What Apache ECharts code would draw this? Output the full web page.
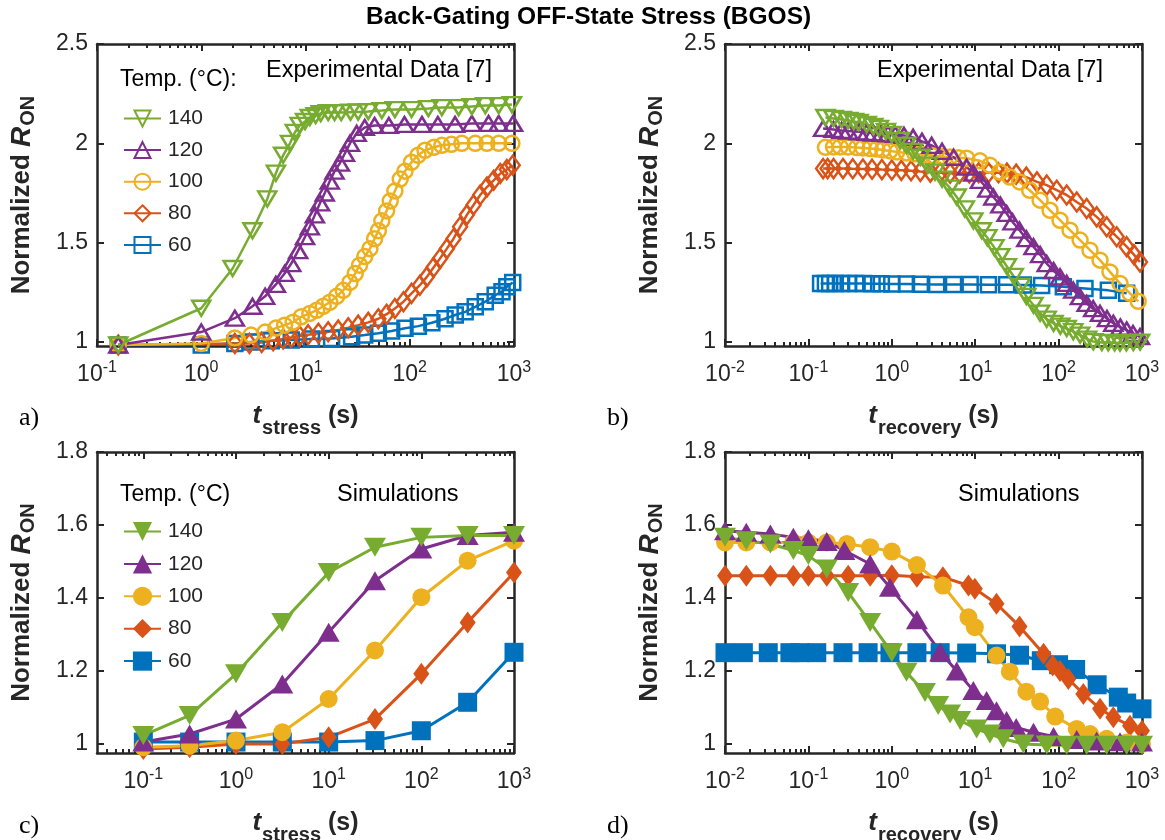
<!DOCTYPE html>
<html><head><meta charset="utf-8">
<script src="https://cdn.jsdelivr.net/npm/echarts@6/dist/echarts.min.js"></script>
<style>html,body{margin:0;padding:0;background:#fff}#c{width:1165px;height:840px}</style>
</head><body><div id="c"></div>
<script>
// ---------------- DATA ----------------
const temps = ['140', '120', '100', '80', '60'];
const stressExps = [-1, 0, 1, 2, 3];
const recoveryExps = [-2, -1, 0, 1, 2, 3];
const expYTicks = [1, 1.5, 2, 2.5];
const simYTicks = [1, 1.2, 1.4, 1.6, 1.8];

// a) experimental stress: [t (s), normalized R_ON]
const expStress140 = [[0.16,0.985],[1,1.17],[2,1.37],[3.1,1.56],[4.3,1.72],[5.2,1.85],[6.1,1.94],[7.1,2.0],[7.9,2.055],[8.8,2.09],[9.9,2.11],[11,2.13],[12.5,2.14],[14,2.15],[16.5,2.155],[19,2.155],[22,2.155],[27,2.157],[32,2.158],[40,2.16],[54,2.165],[72,2.17],[104,2.17],[151,2.175],[203,2.18],[294,2.18],[394,2.185],[530,2.19],[713,2.19],[955,2.195]];
const expStress120 = [[0.16,0.985],[1,1.05],[2.1,1.12],[3.1,1.18],[4.1,1.23],[5.2,1.29],[6.3,1.345],[7.3,1.395],[8.5,1.46],[9.9,1.53],[11,1.58],[12.3,1.64],[13.8,1.70],[15.3,1.75],[17.1,1.81],[19,1.86],[21.4,1.90],[23.9,1.95],[26.7,2.0],[31,2.05],[37,2.08],[46,2.09],[63,2.09],[89,2.095],[131,2.095],[186,2.095],[272,2.095],[394,2.1],[570,2.1],[713,2.1],[980,2.1]];
const expStress100 = [[0.16,0.985],[1,0.993],[2.1,1.02],[3,1.035],[4.1,1.05],[5.2,1.07],[6.3,1.085],[7.6,1.10],[9.1,1.127],[11,1.144],[12.8,1.16],[14.8,1.18],[17.1,1.20],[19.9,1.23],[23,1.26],[26.7,1.30],[30,1.345],[33,1.387],[37,1.43],[41.5,1.47],[46,1.52],[50,1.56],[54,1.61],[60,1.66],[65,1.71],[72,1.76],[81,1.82],[90,1.86],[104,1.905],[120,1.94],[140,1.965],[170,1.98],[203,1.99],[251,1.995],[316,2.0],[425,2.0],[550,2.0],[713,2.0],[955,2.0]];
const expStress80 = [[0.16,0.985],[2.1,0.993],[2.9,0.993],[3.8,0.998],[4.9,1.007],[6.1,1.015],[7.3,1.023],[8.8,1.03],[10.6,1.037],[13.3,1.044],[16.5,1.052],[20.6,1.06],[25.7,1.072],[32,1.085],[40,1.099],[50,1.117],[60,1.14],[72,1.169],[87,1.203],[104,1.245],[125,1.286],[146,1.328],[169,1.375],[195,1.42],[227,1.47],[263,1.52],[304,1.58],[353,1.64],[409,1.69],[474,1.74],[550,1.78],[638,1.814],[738,1.848],[853,1.868],[972,1.89]];
const expStress60 = [[0.16,0.985],[1,0.985],[2.1,0.993],[3,1.0],[4.7,1.007],[7.3,1.01],[11.4,1.015],[17.8,1.018],[27.7,1.027],[37,1.035],[50,1.044],[67,1.055],[90,1.069],[121,1.08],[163,1.097],[218,1.117],[273,1.136],[340,1.152],[425,1.177],[530,1.203],[660,1.236],[767,1.253],[853,1.278],[972,1.30]];

// b) experimental recovery
const expRec140 = [[0.16,2.13],[0.2,2.125],[0.25,2.12],[0.3,2.115],[0.35,2.11],[0.4,2.105],[0.5,2.095],[0.6,2.085],[0.7,2.075],[0.85,2.06],[1.0,2.045],[1.25,2.015],[1.5,1.99],[1.8,1.96],[2.2,1.93],[2.7,1.89],[3.3,1.855],[4,1.82],[5,1.775],[6,1.73],[7.5,1.67],[9.5,1.61],[12,1.56],[14,1.525],[17,1.475],[20,1.43],[24,1.38],[29,1.33],[35,1.28],[41,1.23],[50,1.185],[60,1.145],[72,1.115],[87,1.094],[105,1.08],[125,1.068],[150,1.052],[181,1.035],[220,1.015],[261,1.002],[330,0.998],[394,0.997],[470,0.996],[545,0.995],[650,0.996],[787,0.998],[950,1.0]];
const expRec120 = [[0.15,2.075],[0.2,2.07],[0.25,2.065],[0.3,2.062],[0.4,2.058],[0.5,2.055],[0.6,2.052],[0.75,2.05],[0.9,2.048],[1.1,2.045],[1.4,2.04],[1.8,2.03],[2.3,2.01],[3,1.99],[4,1.96],[5.5,1.93],[7.9,1.88],[9.5,1.85],[11.4,1.814],[14,1.77],[16.5,1.73],[20,1.69],[23.8,1.647],[28,1.605],[34,1.563],[41,1.52],[50,1.48],[60,1.44],[72,1.395],[87,1.36],[104,1.328],[125,1.295],[150,1.261],[180,1.228],[217,1.194],[260,1.168],[314,1.144],[380,1.118],[453,1.094],[550,1.075],[655,1.06],[780,1.043],[946,1.027]];
const expRec100 = [[0.16,1.98],[0.2,1.982],[0.24,1.982],[0.3,1.981],[0.38,1.979],[0.45,1.977],[0.55,1.974],[0.66,1.971],[0.78,1.967],[0.95,1.962],[1.15,1.957],[1.5,1.952],[1.9,1.947],[2.4,1.942],[3.1,1.938],[4,1.934],[5,1.931],[6.3,1.928],[7.9,1.925],[11.4,1.912],[15,1.89],[19.8,1.856],[26,1.83],[34,1.806],[45,1.764],[60,1.714],[79,1.663],[104,1.613],[137,1.563],[181,1.513],[238,1.462],[314,1.412],[413,1.353],[545,1.295],[718,1.245],[900,1.205]];
const expRec80 = [[0.15,1.873],[0.17,1.873],[0.2,1.873],[0.26,1.873],[0.34,1.872],[0.45,1.871],[0.58,1.87],[0.76,1.868],[1.0,1.866],[1.3,1.864],[1.7,1.862],[2.2,1.858],[2.9,1.855],[3.8,1.852],[5,1.85],[6.5,1.85],[8.5,1.851],[11,1.852],[14.5,1.852],[19,1.852],[24,1.85],[31,1.845],[41,1.83],[55,1.806],[72,1.79],[95,1.764],[125,1.74],[165,1.705],[217,1.672],[286,1.63],[377,1.58],[497,1.53],[655,1.48],[800,1.44],[946,1.403]];
const expRec60 = [[0.14,1.295],[0.16,1.295],[0.18,1.295],[0.21,1.295],[0.25,1.295],[0.3,1.295],[0.37,1.294],[0.46,1.294],[0.58,1.293],[0.75,1.293],[1.0,1.292],[1.5,1.292],[2.2,1.291],[3.45,1.29],[5.5,1.29],[8.7,1.289],[14.4,1.288],[23.8,1.288],[37.8,1.287],[62.6,1.285],[114,1.278],[207,1.27],[395,1.26],[655,1.245]];

// c) simulated stress
const simStressTime = [0.1, 0.316, 1, 3.16, 10, 31.6, 100, 316, 1000];
const simStress140 = [1.023, 1.078, 1.192, 1.333, 1.47, 1.539, 1.566, 1.571, 1.571];
const simStress120 = [1.005, 1.027, 1.068, 1.164, 1.306, 1.447, 1.534, 1.571, 1.58];
const simStress100 = [0.991, 0.995, 1.009, 1.032, 1.123, 1.256, 1.402, 1.502, 1.557];
const simStress80 = [0.986, 0.991, 1.0, 1.0, 1.018, 1.068, 1.192, 1.333, 1.47];
const simStress60 = [1.005, 1.005, 1.005, 1.005, 1.005, 1.009, 1.036, 1.114, 1.251];

// d) simulated recovery
const simRec140 = [[0.01,1.566],[0.018,1.557],[0.035,1.548],[0.066,1.53],[0.1,1.516],[0.166,1.479],[0.3,1.415],[0.55,1.333],[1.0,1.25],[1.5,1.196],[2.5,1.141],[3.6,1.105],[5,1.082],[6.6,1.064],[10.4,1.041],[15,1.027],[21.7,1.014],[37.8,1.0],[72,0.997],[125,0.996],[217,0.996],[377,0.996],[655,0.996],[1000,0.996]];
const simRec120 = [[0.01,1.584],[0.018,1.58],[0.035,1.575],[0.066,1.566],[0.1,1.562],[0.166,1.555],[0.27,1.53],[0.55,1.493],[0.95,1.429],[2.0,1.34],[3.8,1.252],[6,1.2],[9.5,1.146],[13.7,1.119],[18,1.091],[23.8,1.064],[31,1.045],[50,1.032],[87,1.02],[165,1.012],[286,1.008],[545,1.006],[1000,1.005]];
const simRec100 = [[0.01,1.552],[0.018,1.552],[0.035,1.552],[0.066,1.552],[0.1,1.552],[0.166,1.552],[0.29,1.548],[0.55,1.539],[1.0,1.527],[2.0,1.49],[4.1,1.434],[8.3,1.347],[9.9,1.32],[18,1.242],[26,1.198],[41,1.143],[60,1.116],[91,1.075],[165,1.041],[238,1.027],[377,1.014],[655,1.004],[1000,1.0]];
const simRec80 = [[0.01,1.461],[0.018,1.461],[0.035,1.461],[0.066,1.461],[0.1,1.461],[0.166,1.461],[0.3,1.461],[0.55,1.461],[1.0,1.462],[2.0,1.458],[4.1,1.457],[8.3,1.434],[9.9,1.425],[18,1.384],[34,1.322],[66,1.247],[85,1.215],[104,1.2],[131,1.178],[198,1.137],[314,1.096],[453,1.073],[718,1.05],[1000,1.036]];
const simRec60 = [[0.01,1.25],[0.0166,1.25],[0.033,1.25],[0.06,1.25],[0.079,1.25],[0.126,1.25],[0.26,1.25],[0.52,1.25],[0.95,1.25],[2.0,1.25],[3.8,1.25],[7.9,1.249],[18,1.247],[34,1.243],[62,1.228],[100,1.217],[160,1.204],[290,1.162],[520,1.128],[655,1.112],[1000,1.096]];

// ---------------- STYLE ----------------
const AX = '#262626';
const FONT = "'Liberation Sans', Arial, Helvetica, sans-serif";
const SERIF = "'Liberation Serif', 'Times New Roman', serif";
const COLOR = {'140':'#77AC30','120':'#7E2F8E','100':'#EDB120','80':'#D95319','60':'#0072BD'};
const SYMBOL = {'140':'triangle','120':'triangle','100':'circle','80':'diamond','60':'rect'};
const ROT = {'140':180,'120':0,'100':0,'80':0,'60':0};
const SIZE_HOLLOW = {'140':[18,15],'120':[18,15],'100':15,'80':[14,19],'60':15};
const SIZE_FILLED = {'140':[22,19],'120':[22,19],'100':18,'80':[16,22],'60':19};

const simStressPairs = {
  '140': simStressTime.map((t, i) => [t, simStress140[i]]),
  '120': simStressTime.map((t, i) => [t, simStress120[i]]),
  '100': simStressTime.map((t, i) => [t, simStress100[i]]),
  '80': simStressTime.map((t, i) => [t, simStress80[i]]),
  '60': simStressTime.map((t, i) => [t, simStress60[i]])
};

const panels = [
  {key:'a', grid:{left:97, top:44, width:417, height:302}, xMin:-1, xMax:3, exps:stressExps, yMin:0.98, yMax:2.5, yTicks:expYTicks, sub:'stress', filled:false,
   data:{'140':expStress140,'120':expStress120,'100':expStress100,'80':expStress80,'60':expStress60}},
  {key:'b', grid:{left:725, top:44, width:417, height:302}, xMin:-2, xMax:3, exps:recoveryExps, yMin:0.98, yMax:2.5, yTicks:expYTicks, sub:'recovery', filled:false,
   data:{'140':expRec140,'120':expRec120,'100':expRec100,'80':expRec80,'60':expRec60}},
  {key:'c', grid:{left:97, top:452, width:417, height:301}, xMin:-1.5, xMax:3, exps:stressExps, yMin:0.975, yMax:1.8, yTicks:simYTicks, sub:'stress', filled:true,
   data:simStressPairs},
  {key:'d', grid:{left:725, top:452, width:417, height:301}, xMin:-2, xMax:3, exps:recoveryExps, yMin:0.975, yMax:1.8, yTicks:simYTicks, sub:'recovery', filled:true,
   data:{'140':simRec140,'120':simRec120,'100':simRec100,'80':simRec80,'60':simRec60}}
];

function minorTicks(min, max) {
  const out = [];
  for (let n = Math.floor(min); n < Math.ceil(max); n++) {
    for (let k = 2; k <= 9; k++) {
      const v = n + Math.log10(k);
      if (v > min && v < max) out.push(v);
    }
  }
  return out;
}

const grids = [], xAxes = [], yAxes = [], series = [];
const lineAx = {show:true, onZero:false, lineStyle:{color:AX, width:2.5}};
const tickStyle = {color:AX, width:2};

panels.forEach((p, g) => {
  grids.push(Object.assign({containLabel:false, outerBoundsMode:'none'}, p.grid));
  const minors = minorTicks(p.xMin, p.xMax);
  const base = {gridIndex:g, type:'value', min:p.xMin, max:p.xMax, splitLine:{show:false}};
  xAxes.push(Object.assign({}, base, {
    position:'bottom', axisLine:lineAx,
    axisTick:{show:true, inside:true, length:7, customValues:p.exps, lineStyle:tickStyle},
    axisLabel:{show:true, customValues:p.exps, margin:14,
      formatter: v => '{b|10}{e|' + Math.round(v) + '}',
      rich:{b:{fontSize:23, fontFamily:FONT, color:AX}, e:{fontSize:16, fontFamily:FONT, color:AX, padding:[0,0,13,0]}}},
    name:'{t|t}{s|' + p.sub + '}{p| (s)}', nameLocation:'middle', nameGap:48,
    nameTextStyle:{color:AX, rich:{
      t:{fontSize:26, fontWeight:'bold', fontStyle:'italic', fontFamily:FONT, color:AX},
      s:{fontSize:20, fontWeight:'bold', fontFamily:FONT, color:AX, padding:[24,0,0,1]},
      p:{fontSize:25, fontWeight:'bold', fontFamily:FONT, color:AX}}}
  }));
  xAxes.push(Object.assign({}, base, {position:'bottom', axisLine:{show:false, onZero:false},
    axisTick:{show:true, inside:true, length:4, customValues:minors, lineStyle:tickStyle}, axisLabel:{show:false}}));
  xAxes.push(Object.assign({}, base, {position:'top', axisLine:lineAx,
    axisTick:{show:true, inside:true, length:7, customValues:p.exps, lineStyle:tickStyle}, axisLabel:{show:false}}));
  xAxes.push(Object.assign({}, base, {position:'top', axisLine:{show:false, onZero:false},
    axisTick:{show:true, inside:true, length:4, customValues:minors, lineStyle:tickStyle}, axisLabel:{show:false}}));

  const yb = {gridIndex:g, type:'value', min:p.yMin, max:p.yMax, splitLine:{show:false}};
  yAxes.push(Object.assign({}, yb, {position:'left', axisLine:lineAx,
    axisTick:{show:true, inside:true, length:7, customValues:p.yTicks, lineStyle:tickStyle},
    axisLabel:{show:true, customValues:p.yTicks, margin:9, fontSize:23, fontFamily:FONT, color:AX},
    name:'{n|Normalized }{r|R}{o|ON}', nameLocation:'middle', nameRotate:90, nameGap:59,
    nameTextStyle:{color:AX, rich:{
      n:{fontSize:26, fontWeight:'bold', fontFamily:FONT, color:AX},
      r:{fontSize:28, fontWeight:'bold', fontStyle:'italic', fontFamily:FONT, color:AX},
      o:{fontSize:20, fontWeight:'bold', fontFamily:FONT, color:AX, padding:[12,0,0,1]}}}
  }));
  yAxes.push(Object.assign({}, yb, {position:'right', axisLine:lineAx,
    axisTick:{show:true, inside:true, length:7, customValues:p.yTicks, lineStyle:tickStyle}, axisLabel:{show:false}}));

  // plot order: 60 first, 140 last (on top)
  temps.slice().reverse().forEach(temp => {
    const c = COLOR[temp];
    series.push({
      type:'line', name:p.key + ' ' + temp, xAxisIndex:g * 4, yAxisIndex:g * 2,
      data:p.data[temp].map(d => [Math.log10(d[0]), d[1]]),
      symbol:SYMBOL[temp], symbolRotate:ROT[temp],
      symbolSize:p.filled ? SIZE_FILLED[temp] : SIZE_HOLLOW[temp],
      showAllSymbol:true, clip:false, silent:true,
      lineStyle:{color:c, width:p.filled ? 3 : 2.5},
      itemStyle:p.filled ? {color:c, borderWidth:0} : {color:'rgba(255,255,255,0)', borderColor:c, borderWidth:2.5},
      emphasis:{disabled:true}, z:2
    });
  });
});

const legendBase = {orient:'vertical', left:123, padding:0, itemWidth:37, align:'left',
  formatter:name => name.split(' ')[1], textStyle:{fontSize:21, fontFamily:FONT, color:AX, padding:[0,0,0,2]},
  selectedMode:false};

const T = (text, left, top, size, extra) => ({text, left, top, padding:0,
  textStyle:Object.assign({fontSize:size, fontFamily:FONT, fontWeight:'normal', color:'#000'}, extra || {})});

const option = {
  backgroundColor:'#fff', animation:false,
  grid:grids, xAxis:xAxes, yAxis:yAxes, series:series,
  legend:[
    Object.assign({}, legendBase, {top:108, itemHeight:20, itemGap:10.6, data:temps.map(t => 'a ' + t)}),
    Object.assign({}, legendBase, {top:521, itemHeight:24, itemGap:11.4, data:temps.map(t => 'c ' + t)})
  ],
  title:[
    T('Back-Gating OFF-State Stress (BGOS)', 366, 5, 24.5, {fontWeight:'bold'}),
    T('Temp. (°C):', 120, 68, 23),
    T('Experimental Data [7]', 266, 59, 23.5),
    T('Experimental Data [7]', 877, 59, 23.5),
    T('Temp. (°C)', 120, 483, 23),
    T('Simulations', 337, 483, 23.5),
    T('Simulations', 958, 483, 23.5),
    T('a)', 19, 405, 26, {fontFamily:SERIF}),
    T('b)', 607, 405, 26, {fontFamily:SERIF}),
    T('c)', 19, 813, 26, {fontFamily:SERIF}),
    T('d)', 607, 813, 26, {fontFamily:SERIF})
  ]
};

const chart = echarts.init(document.getElementById('c'), null, {renderer:'canvas', width:1165, height:840});
chart.setOption(option);
</script>
</body></html>
